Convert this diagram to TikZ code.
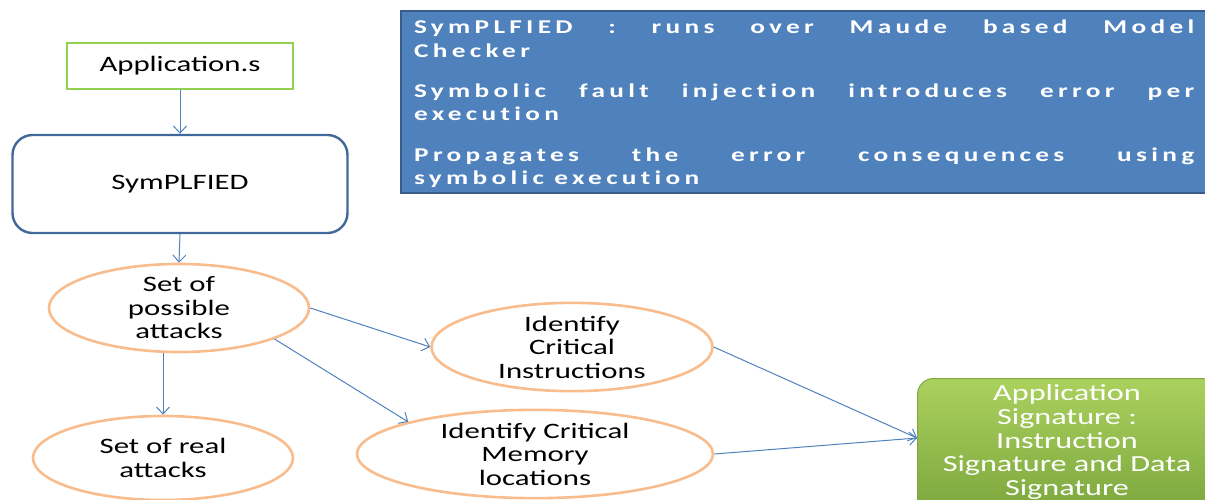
\documentclass[tikz,border=0pt]{standalone}
\usepackage{fontspec}
\setmainfont{Carlito}[FakeStretch=1.4]
\usetikzlibrary{arrows.meta,shapes.geometric}
\definecolor{linkblue}{HTML}{4F81BD}
\definecolor{panelblue}{HTML}{4F81BD}
\definecolor{paneledge}{HTML}{385D8A}
\definecolor{peach}{HTML}{F9BC8C}
\definecolor{leaf}{HTML}{92D050}
\definecolor{navyedge}{HTML}{41689A}
\definecolor{gtop}{HTML}{ABD15E}
\definecolor{gbot}{HTML}{76A23A}
\definecolor{gedge}{HTML}{7FA843}
\tikzset{
  link/.style={draw=linkblue, line width=1pt, -{Straight Barb[length=7pt,width=13pt,line width=1pt]}},
  oval/.style={ellipse, draw=peach, line width=2.6pt, inner sep=0pt, align=center,
               font=\fontsize{22}{23.5}\selectfont},
  boxtext/.style={font=\fontsize{22}{23.5}\selectfont, align=center}
}
\begin{document}
\begin{tikzpicture}[x=1pt,y=-1pt]
\useasboundingbox (0,0) rectangle (1205,499);
\begin{scope}
\clip (0,0) rectangle (1205,499);

% description panel
\node[fill=panelblue, draw=paneledge, line width=2pt, minimum width=820pt, minimum height=182pt,
      anchor=north west, inner sep=0pt] (panel) at (400,10) {};
\node[anchor=north west, inner sep=0pt, text=white] (paneltext) at (414,20)
  {\parbox{780pt}{\fontsize{19.5}{23.3}\selectfont\bfseries\addfontfeature{LetterSpace=22,Ligatures=NoCommon}%
   \setlength{\parskip}{17pt}\setlength{\parindent}{0pt}\hbadness=10000 \hfuzz=30pt
   SymPLFIED : runs over Maude based Model\linebreak Checker\par
   Symbolic fault injection introduces error per\linebreak execution\par
   Propagates the error consequences using\linebreak symbolic execution}};

% input and tool
\node[draw=leaf, line width=2.2pt, minimum width=226pt, minimum height=46pt, boxtext] (app) at (180,66) {Application.s};
\node[draw=navyedge, line width=2.4pt, rounded corners=20pt, minimum width=335pt, minimum height=98pt, boxtext] (tool) at (180,184) {SymPLFIED};

% ovals
\node[oval, minimum width=260pt, minimum height=86pt] (poss) at (179,308) {Set of\\possible\\attacks};
\node[oval, minimum width=260pt, minimum height=84pt] (real) at (163,458) {Set of real\\attacks};
\node[oval, minimum width=281pt, minimum height=85pt] (instr) at (572,347) {Identify\\Critical\\Instructions};
\node[oval, minimum width=356pt, minimum height=84pt] (mem) at (535,454) {Identify Critical\\Memory\\locations};

% result
\node[rounded corners=16pt, top color=gtop, bottom color=gbot, draw=gedge, line width=1pt,
      minimum width=300pt, minimum height=150pt, anchor=north west, inner sep=0pt] (sig) at (917,378) {};
\node[text=white, align=center, font=\fontsize{23}{23.8}\selectfont, anchor=north] (sigtext) at (1067,381)
  {Application\\Signature :\\Instruction\\Signature and Data\\Signature};

% connectors
\draw[link] (app.south) -- (tool.north);
\draw[link] (tool.south) -- (poss.north);
\draw[link] (poss.south -| real.north) -- (real.north);
\draw[link] (poss.east) -- (instr.west);
\draw[link] (poss.-18) -- (mem.north west);
\coordinate (sigin) at (917,438);
\draw[link] (instr.east) -- (sigin);
\draw[link] (mem.east) -- (sigin);
\end{scope}
\end{tikzpicture}
\end{document}
